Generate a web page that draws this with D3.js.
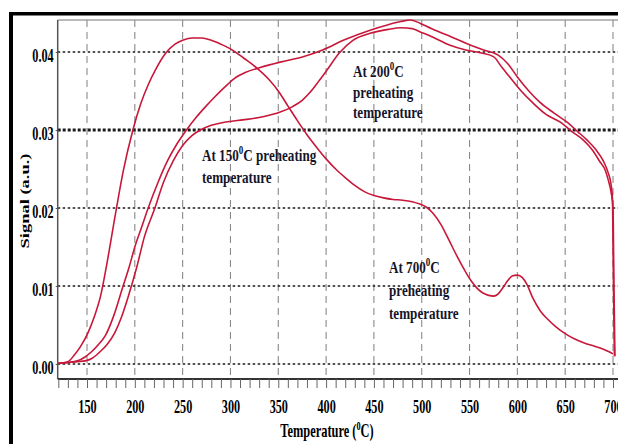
<!DOCTYPE html>
<html>
<head>
<meta charset="utf-8">
<script src="https://cdn.jsdelivr.net/npm/d3@7/dist/d3.min.js"></script>
<style>
  html, body { margin: 0; padding: 0; background: #fff; }
  svg { display: block; }
  text { font-family: "Liberation Serif", "Times New Roman", serif; font-weight: bold; }
</style>
</head>
<body>
<svg id="chart" width="618" height="444"></svg>
<script>
// ---------------- data ----------------
const xTickValues = d3.range(120, 711, 10);
const xLabelValues = [150, 200, 250, 300, 350, 400, 450, 500, 550, 600, 650, 700];
const yTickValues = [0, 0.01, 0.02, 0.03, 0.04];

// 700 °C preheating
const tempC = [120,130,137,143,151,158,164,171,179,188,198,206,214,222,232,242,250,260,270,280,290,300,314,328,340,350,360,370,380,390,400,410,420,430,440,450,460,470,480,490,498,505,512,520,528,537,545,552,558,564,570,575,580,585,590,595,600,605,610,616,624,632,640,650,660,670,680,690,697,700];
const sigC  = [0.0001,0.0003,0.0012,0.0022,0.004,0.0062,0.0086,0.013,0.0187,0.0248,0.030,0.0333,0.0358,0.0378,0.0398,0.041,0.0415,0.0418,0.0418,0.0415,0.041,0.0404,0.0392,0.0379,0.0365,0.0350,0.0331,0.0312,0.0294,0.0278,0.0263,0.0250,0.0239,0.0229,0.0221,0.0216,0.0213,0.0211,0.0210,0.0208,0.0205,0.0201,0.0193,0.0179,0.0160,0.0138,0.0120,0.0106,0.0097,0.0091,0.0088,0.0087,0.0090,0.0098,0.0107,0.0113,0.0114,0.0111,0.0102,0.0085,0.0068,0.0057,0.0048,0.0039,0.0032,0.0027,0.0023,0.0019,0.0015,0.0013];

// 200 °C preheating
const tempB = [120,130,140,148,155,162,169,178,187,194,200,207,214,224,234,244,254,264,274,284,294,304,316,331,352,376,397,418,446,465,478,488,498,510,530,545,564,580,590,600,612,624,638,652,663,673,682,690,695,698,699.5,700.5,701.5];
const sigB  = [0.0001,0.0002,0.0004,0.0009,0.0016,0.0025,0.0036,0.0062,0.0097,0.0124,0.015,0.0175,0.020,0.0232,0.0260,0.0282,0.030,0.0316,0.0330,0.0343,0.0355,0.0366,0.0374,0.038,0.0387,0.0394,0.0403,0.0415,0.0428,0.0435,0.0439,0.0441,0.0437,0.0430,0.042,0.0412,0.0403,0.0396,0.0385,0.0368,0.0350,0.0335,0.0322,0.031,0.0298,0.0287,0.0275,0.026,0.0245,0.023,0.021,0.010,0.001];

// 150 °C preheating
const tempA = [120,130,140,148,155,163,171,179,186,193,202,210,221,230,240,250,260,270,280,290,300,313,334,352,365,375,383,392,401,414,428,446,465,478,490,498,510,529,545,561,575,584,592,604,616,630,645,657,669,678,686,692,695,698,700,701,702];
const sigA  = [0.0001,0.0002,0.0003,0.0004,0.0007,0.0015,0.0025,0.004,0.006,0.0086,0.0124,0.0163,0.020,0.0233,0.0260,0.0280,0.0293,0.0301,0.0306,0.0309,0.0311,0.0313,0.0317,0.0323,0.033,0.0338,0.0348,0.0362,0.0377,0.0399,0.0415,0.0424,0.0429,0.0431,0.043,0.0426,0.042,0.0409,0.0403,0.0399,0.0394,0.038,0.0368,0.035,0.0335,0.032,0.031,0.0298,0.0287,0.0275,0.026,0.0248,0.0236,0.022,0.02,0.010,0.001];

const seriesNames = ["At 150", "At 200", "At 700"];

// ---------------- layout ----------------
const svg = d3.select("#chart");
const plotL = 57.7, plotT = 20, plotB = 379, plotR = 618;
const x = d3.scaleLinear().domain([150, 700]).range([87, 613]);
const y = d3.scaleLinear().domain([0, 0.04]).range([364, 52]);
const red = "#c8183a";
const ink = "#15152a";

svg.append("rect").attr("width", 618).attr("height", 444).attr("fill", "#fff");

// outer black frame (top + left)
svg.append("rect").attr("x", 9).attr("y", 12).attr("width", 609).attr("height", 3.5).attr("fill", "#000");
svg.append("rect").attr("x", 9).attr("y", 12).attr("width", 4).attr("height", 432).attr("fill", "#000");

// top border of plot
svg.append("line").attr("x1", plotL).attr("x2", plotR).attr("y1", plotT).attr("y2", plotT)
  .attr("stroke", "#777").attr("stroke-width", 1);

// vertical dashed grid
svg.append("g").selectAll("line").data(xLabelValues).join("line")
  .attr("x1", d => x(d)).attr("x2", d => x(d)).attr("y1", plotT).attr("y2", plotB)
  .attr("stroke", "#8a8a8a").attr("stroke-width", 1.1).attr("stroke-dasharray", "7,5");

// horizontal dotted grid
svg.append("g").selectAll("line").data(yTickValues).join("line")
  .attr("x1", plotL).attr("x2", plotR).attr("y1", d => y(d)).attr("y2", d => y(d))
  .attr("stroke", "#1a1a1a")
  .attr("stroke-width", d => Math.abs(d - 0.03) < 1e-9 ? 3 : 1.5)
  .attr("stroke-dasharray", d => Math.abs(d - 0.03) < 1e-9 ? "3,2" : "2.5,2.5");

// clip
svg.append("clipPath").attr("id", "clip").append("rect")
  .attr("x", plotL).attr("y", plotT - 2).attr("width", plotR - plotL).attr("height", plotB - plotT + 2);

const line = d3.line().x(d => x(d[0])).y(d => y(d[1])).curve(d3.curveMonotoneX);
const curves = [d3.zip(tempA, sigA), d3.zip(tempB, sigB), d3.zip(tempC, sigC)];
svg.append("g").attr("clip-path", "url(#clip)").selectAll("path").data(curves).join("path")
  .attr("d", line).attr("fill", "none").attr("stroke", red).attr("stroke-width", 1.6)
  .attr("stroke-linejoin", "round");

// axes lines
svg.append("line").attr("x1", plotL).attr("x2", plotL).attr("y1", plotT).attr("y2", plotB)
  .attr("stroke", "#555").attr("stroke-width", 1.5);

// x axis
const xAxis = svg.append("g").attr("transform", `translate(0,${plotB})`)
  .call(d3.axisBottom(x).tickValues(xTickValues).tickSize(9).tickSizeOuter(0)
    .tickFormat(d => xLabelValues.includes(d) ? d : ""));
xAxis.select(".domain").attr("stroke", "#333").attr("stroke-width", 2)
  .attr("d", `M${plotL},0H${plotR}`);
xAxis.selectAll(".tick line").attr("stroke", "#666").attr("stroke-width", 1);
xAxis.selectAll(".tick text").attr("y", 0).attr("dy", 0)
  .attr("transform", "translate(0,34) scale(0.66,1)")
  .attr("font-size", 18.5).attr("fill", "#000")
  .attr("font-family", "'Liberation Serif','Times New Roman',serif").attr("font-weight", "bold");

// y axis
const yAxis = svg.append("g").attr("transform", `translate(${plotL},0)`)
  .call(d3.axisLeft(y).tickValues(yTickValues).tickSize(2).tickSizeOuter(0).tickFormat(d3.format(".2f")));
yAxis.select(".domain").remove();
yAxis.selectAll(".tick line").attr("stroke", "#555");
yAxis.selectAll(".tick text").attr("x", 0).attr("dy", 0)
  .attr("transform", "translate(-4,9.5) scale(0.66,1)")
  .attr("font-size", 18.5).attr("fill", "#000")
  .attr("font-family", "'Liberation Serif','Times New Roman',serif").attr("font-weight", "bold");

// axis titles
const xt = svg.append("text").attr("transform", "translate(327,437) scale(0.69,1)")
  .attr("text-anchor", "middle").attr("font-size", 18).attr("fill", "#000");
xt.append("tspan").text("Temperature (");
xt.append("tspan").attr("font-size", 12).attr("dy", -7).text("0");
xt.append("tspan").attr("dy", 7).text("C)");

svg.append("text").attr("transform", "translate(29,201) rotate(-90) scale(1,0.7)")
  .attr("text-anchor", "middle").attr("font-size", 18.5).attr("fill", "#000")
  .text("Signal (a.u.)");

// annotations
function annot(px, py, lines) {
  lines.forEach((ln, i) => {
    const t = svg.append("text")
      .attr("transform", `translate(${px},${py[i]}) scale(0.75,1)`)
      .attr("font-size", 17.5).attr("fill", ink);
    if (ln.sup) {
      t.append("tspan").text(ln.pre);
      t.append("tspan").attr("font-size", 12).attr("dy", -7).text("0");
      t.append("tspan").attr("dy", 7).text(ln.post);
    } else {
      t.text(ln.text);
    }
  });
}
annot(353, [77, 98, 118], [{sup: true, pre: "At 200", post: "C"}, {text: "preheating"}, {text: "temperature"}]);
annot(202, [161, 183], [{sup: true, pre: "At 150", post: "C preheating"}, {text: "temperature"}]);
annot(389, [273, 296, 319], [{sup: true, pre: "At 700", post: "C"}, {text: "preheating"}, {text: "temperature"}]);
</script>
</body>
</html>
